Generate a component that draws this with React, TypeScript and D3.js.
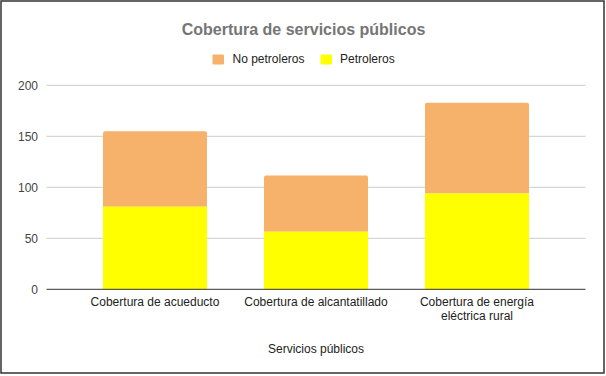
import React from "react";
import * as d3 from "d3";

const categories = [
  ["Cobertura de acueducto"],
  ["Cobertura de alcantatillado"],
  ["Cobertura de energía", "eléctrica rural"],
];
const categoryKeys = ["acueducto", "alcantarillado", "energia"];
const petroleros = [81, 56.5, 94];
const noPetroleros = [74, 55, 89];
const yTicks = [0, 50, 100, 150, 200];
const seriesNames = ["No petroleros", "Petroleros"];
const seriesColors = ["#f6b26b", "#ffff00"];

const W = 606;
const H = 376;

export default function App() {
  const x = d3
    .scaleBand<string>()
    .domain(categoryKeys)
    .range([74.5, 557.5])
    .paddingInner(0.354)
    .paddingOuter(0.177);
  const y = d3.scaleLinear().domain([0, 200]).range([289.3, 85.3]);
  const font = "'Liberation Sans', Arial, sans-serif";
  const r = 2;

  const topPath = (x0: number, w: number, yTop: number, yBot: number) => {
    const p = d3.path();
    p.moveTo(x0, yBot);
    p.lineTo(x0, yTop + r);
    p.quadraticCurveTo(x0, yTop, x0 + r, yTop);
    p.lineTo(x0 + w - r, yTop);
    p.quadraticCurveTo(x0 + w, yTop, x0 + w, yTop + r);
    p.lineTo(x0 + w, yBot);
    p.closePath();
    return p.toString();
  };

  return (
    <svg
      width={W}
      height={H}
      style={{ position: "absolute", left: 0, top: 0, background: "#fff" }}
      fontFamily={font}
    >
      <rect x={0} y={0} width={W} height={H} fill="#fff" />
      <rect x={1} y={1} width={603} height={372} fill="none" stroke="#333" strokeWidth={1.5} />
      <text x={303.5} y={35} textAnchor="middle" fontSize={16} fontWeight="bold" fill="#757575">
        Cobertura de servicios públicos
      </text>
      {/* legend */}
      <g>
        <rect x={212.5} y={54.5} width={11.5} height={10} rx={1} fill={seriesColors[0]} />
        <text x={232.5} y={63.3} fontSize={12} fill="#222">
          {seriesNames[0]}
        </text>
        <rect x={320.5} y={54.5} width={11.5} height={10} rx={1} fill={seriesColors[1]} />
        <text x={340} y={63.3} fontSize={12} fill="#222">
          {seriesNames[1]}
        </text>
      </g>
      {/* grid */}
      {yTicks.map((t) => (
        <g key={t}>
          {t !== 0 && (
            <line x1={46.5} x2={585.5} y1={y(t)} y2={y(t)} stroke="#cccccc" strokeWidth={1} />
          )}
          <text x={38} y={y(t) + 4.3} textAnchor="end" fontSize={12} fill="#444">
            {t}
          </text>
        </g>
      ))}
      {/* bars */}
      {categoryKeys.map((k, i) => {
        const x0 = x(k)!;
        const w = x.bandwidth();
        const total = petroleros[i] + noPetroleros[i];
        return (
          <g key={k}>
            <path d={topPath(x0, w, y(total), y(petroleros[i]))} fill={seriesColors[0]} />
            <rect
              x={x0}
              y={y(petroleros[i])}
              width={w}
              height={y(0) - y(petroleros[i])}
              fill={seriesColors[1]}
            />
          </g>
        );
      })}
      <line x1={46.5} x2={585.5} y1={y(0)} y2={y(0)} stroke="#333" strokeWidth={1} />
      {/* category labels */}
      {categoryKeys.map((k, i) => (
        <text
          key={k}
          x={x(k)! + x.bandwidth() / 2}
          y={306}
          textAnchor="middle"
          fontSize={12}
          fill="#222"
        >
          {categories[i].map((line, j) => (
            <tspan key={j} x={x(k)! + x.bandwidth() / 2} dy={j === 0 ? 0 : 14}>
              {line}
            </tspan>
          ))}
        </text>
      ))}
      <text x={316} y={352.7} textAnchor="middle" fontSize={12} fill="#222">
        Servicios públicos
      </text>
    </svg>
  );
}
